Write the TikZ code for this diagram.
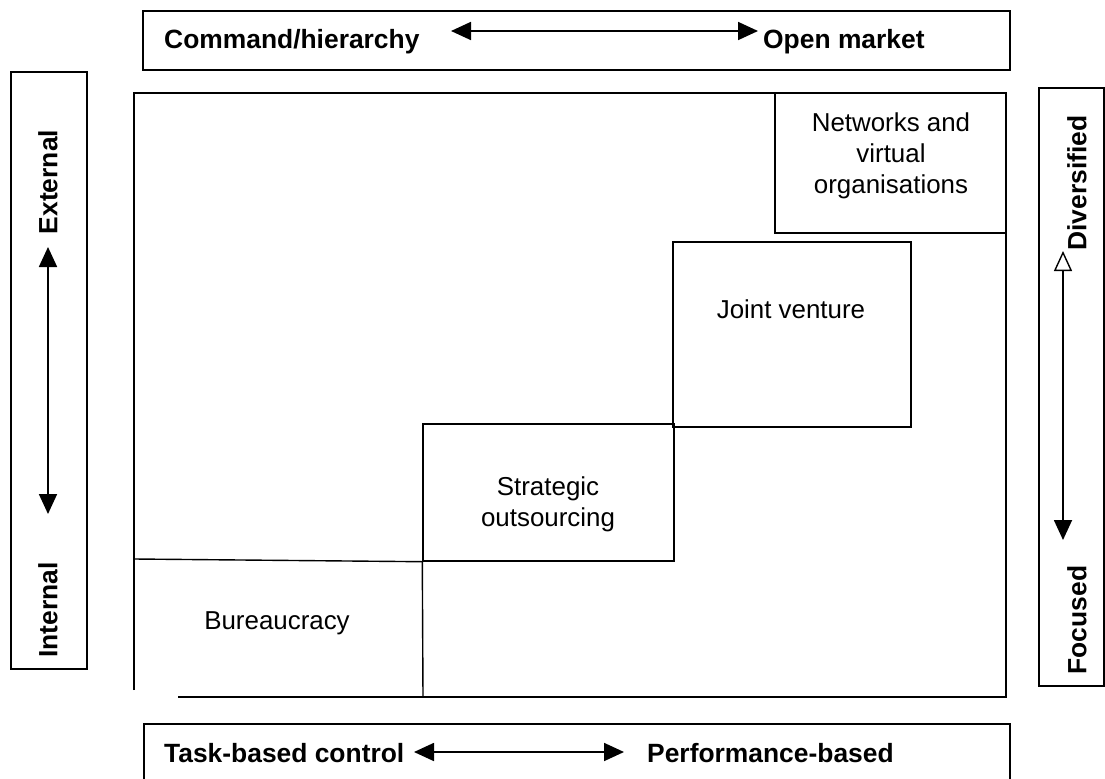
\documentclass[tikz,border=0pt]{standalone}
\usepackage{fontspec}
\setmainfont{Liberation Sans}
\usetikzlibrary{arrows.meta}
\begin{document}
\begin{tikzpicture}[x=1bp,y=-1bp,
  bx/.style={draw, line width=1.8bp, inner sep=0},
  cell/.style={draw, line width=1.4bp, inner sep=0},
  bold/.style={font=\fontsize{26.5}{30}\selectfont\bfseries, inner sep=0},
  reg/.style={font=\fontsize{26}{31}\selectfont, align=center, inner sep=0},
  arr/.style={line width=1.8bp, {Triangle[length=20bp,width=18bp]}-{Triangle[length=20bp,width=18bp]}},
]
\useasboundingbox (0,0) rectangle (1105,779);
% outer boxes
\node[bx, minimum width=867bp, minimum height=59bp] (topbox) at (576.5,40.5) {};
\node[bx, minimum width=76bp, minimum height=597bp] (leftbox) at (49,370.5) {};
\node[bx, minimum width=65bp, minimum height=598bp] (rightbox) at (1071.5,387) {};
\node[bx, minimum width=866bp, minimum height=90bp] (botbox) at (577,769) {};
% main frame (bottom-left corner left open as in the original)
\coordinate (mtl) at (134,93);
\coordinate (mtr) at (1006,93);
\coordinate (mbr) at (1006,697);
\coordinate (mbl) at (178,697);
\coordinate (mle) at (134,690);
\draw[line width=1.4bp] (mle) -- (mtl) -- (mtr) -- (mbr) -- (mbl);
% cells
\node[cell, minimum width=231bp, minimum height=140bp] (net) at (890.5,163) {};
\node[cell, minimum width=238bp, minimum height=185bp] (jv) at (792,334.5) {};
\node[cell, minimum width=251bp, minimum height=137bp] (so) at (548.5,492.5) {};
\coordinate (bl) at (134,559);
\coordinate (bb) at (423,697);
\draw[line width=1.4bp] (bl) -- (so.south west);
\draw[line width=1.4bp] (so.south west) -- (bb);
% cell labels
\node[reg] (netl) at (891,156) {Networks and\\virtual\\organisations};
\node[reg] (jvl) at (791,309) {Joint venture};
\node[reg] (sol) at (548,504) {Strategic\\outsourcing};
\node[reg] (bur) at (277,623) {Bureaucracy};
% top axis
\node[bold, anchor=west] (cmd) at (164,42) {Command/hierarchy};
\node[bold, anchor=west] (open) at (763,42) {Open market};
\coordinate (ta1) at (451,31);
\coordinate (ta2) at (758,31);
\draw[arr] (ta1) -- (ta2);
% bottom axis
\node[bold, anchor=west] (task) at (164,753) {Task-based control};
\node[bold, anchor=west] (perf) at (647,753) {Performance-based};
\coordinate (ba1) at (414,752);
\coordinate (ba2) at (624,752);
\draw[arr] (ba1) -- (ba2);
% left axis
\node[bold, rotate=90] (ext) at (48,182) {External};
\node[bold, rotate=90] (int) at (48,610) {Internal};
\coordinate (la1) at (48,247);
\coordinate (la2) at (48,514);
\draw[arr] (la1) -- (la2);
% right axis
\node[bold, rotate=90] (div) at (1077,183) {Diversified};
\node[bold, rotate=90] (foc) at (1077,620) {Focused};
\coordinate (ra1) at (1063,251);
\coordinate (ra2) at (1063,540);
\draw[line width=1.8bp, {Triangle[open,length=20bp,width=18bp,line width=1.4bp]}-{Triangle[length=20bp,width=18bp]}] (ra1) -- (ra2);
\end{tikzpicture}
\end{document}
